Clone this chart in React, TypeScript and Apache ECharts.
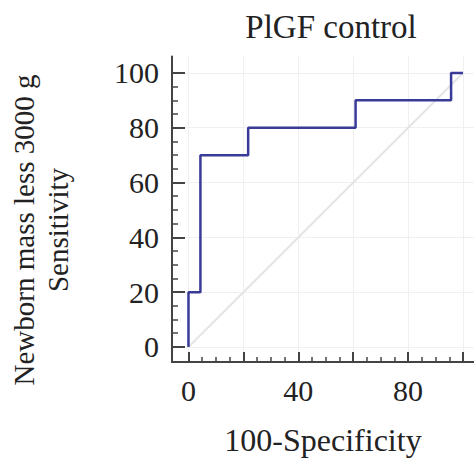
import React, { useEffect, useRef } from "react";
import * as echarts from "echarts";

// ROC operating points (100-Specificity, Sensitivity)
const fprValues = [0, 0, 4.35, 21.74, 60.87, 95.65, 100];
const tprValues = [0, 20, 70, 80, 90, 100, 100];
const diagonal = [0, 100];
const majorTicks = [0, 20, 40, 60, 80, 100];
const minorTicks = [5, 10, 15, 25, 30, 35, 45, 50, 55, 65, 70, 75, 85, 90, 95];
const xTickLabels = [0, 40, 80];
const yTickLabels = [0, 20, 40, 60, 80, 100];

const FONT = "'Liberation Serif', 'Times New Roman', serif";
const AXIS_COLOR = "#444444";
const TEXT_COLOR = "#222222";

export default function App() {
  const ref = useRef<HTMLDivElement>(null);
  useEffect(() => {
    if (!ref.current) return;
    const chart = echarts.init(ref.current, null, { renderer: "svg" });
    const rocData = fprValues.map((x, i) => [x, tprValues[i]]);
    const diagData = diagonal.map((v) => [v, v]);

    const majorAxisCommon = {
      type: "value" as const,
      axisLine: { show: true, onZero: false, lineStyle: { color: AXIS_COLOR, width: 2 } },
      splitLine: { show: true, lineStyle: { color: "#f0f0f0", width: 1 } },
    };
    const minorAxisCommon = {
      type: "value" as const,
      axisLine: { show: false, onZero: false },
      axisLabel: { show: false },
      splitLine: { show: false },
    };

    chart.setOption({
      animation: false,
      backgroundColor: "#ffffff",
      title: {
        text: "PlGF control",
        left: 326,
        top: 5,
        textAlign: "center",
        textStyle: { fontFamily: FONT, fontSize: 33, fontWeight: "normal", color: TEXT_COLOR },
      },
      grid: { left: 172, top: 56.5, width: 302, height: 307 },
      xAxis: [
        {
          ...majorAxisCommon,
          position: "bottom",
          min: -6,
          max: 104,
          axisTick: {
            show: true,
            inside: true,
            length: 10,
            customValues: majorTicks,
            lineStyle: { color: AXIS_COLOR, width: 2 },
          },
          axisLabel: {
            customValues: xTickLabels,
            margin: 13,
            fontFamily: FONT,
            fontSize: 30,
            color: TEXT_COLOR,
          },
          name: "100-Specificity",
          nameLocation: "middle",
          nameGap: 62,
          nameTextStyle: { fontFamily: FONT, fontSize: 32, color: TEXT_COLOR },
        },
        {
          ...minorAxisCommon,
          position: "bottom",
          min: -6,
          max: 104,
          axisTick: {
            show: true,
            inside: true,
            length: 5,
            customValues: minorTicks,
            lineStyle: { color: AXIS_COLOR, width: 1.5 },
          },
        },
      ],
      yAxis: [
        {
          ...majorAxisCommon,
          position: "left",
          min: -5.5,
          max: 106,
          axisTick: {
            show: true,
            inside: true,
            length: 13,
            customValues: majorTicks,
            lineStyle: { color: AXIS_COLOR, width: 2 },
          },
          axisLabel: {
            customValues: yTickLabels,
            margin: 13,
            fontFamily: FONT,
            fontSize: 30,
            color: TEXT_COLOR,
          },
        },
        {
          ...minorAxisCommon,
          position: "left",
          min: -5.5,
          max: 106,
          axisTick: {
            show: true,
            inside: true,
            length: 6,
            customValues: minorTicks,
            lineStyle: { color: AXIS_COLOR, width: 1.5 },
          },
        },
      ],
      graphic: [
        {
          type: "text",
          x: 41,
          y: 230,
          rotation: Math.PI / 2,
          style: {
            text: "Newborn mass less 3000 g\nSensitivity",
            font: `29px ${FONT}`,
            fill: TEXT_COLOR,
            align: "center",
            verticalAlign: "middle",
            lineHeight: 34,
          },
        },
      ],
      series: [
        {
          type: "line",
          xAxisIndex: 0,
          yAxisIndex: 0,
          data: diagData,
          symbol: "none",
          silent: true,
          z: 1,
          lineStyle: { color: "#e4e4e4", width: 2 },
        },
        {
          type: "line",
          xAxisIndex: 0,
          yAxisIndex: 0,
          data: rocData,
          step: "end",
          symbol: "none",
          z: 3,
          lineStyle: { color: "#3a3a98", width: 2.5 },
        },
      ],
    });
    return () => chart.dispose();
  }, []);
  return (
    <div
      ref={ref}
      style={{ position: "fixed", left: 0, top: 0, width: 474, height: 461, background: "#fff" }}
    />
  );
}
